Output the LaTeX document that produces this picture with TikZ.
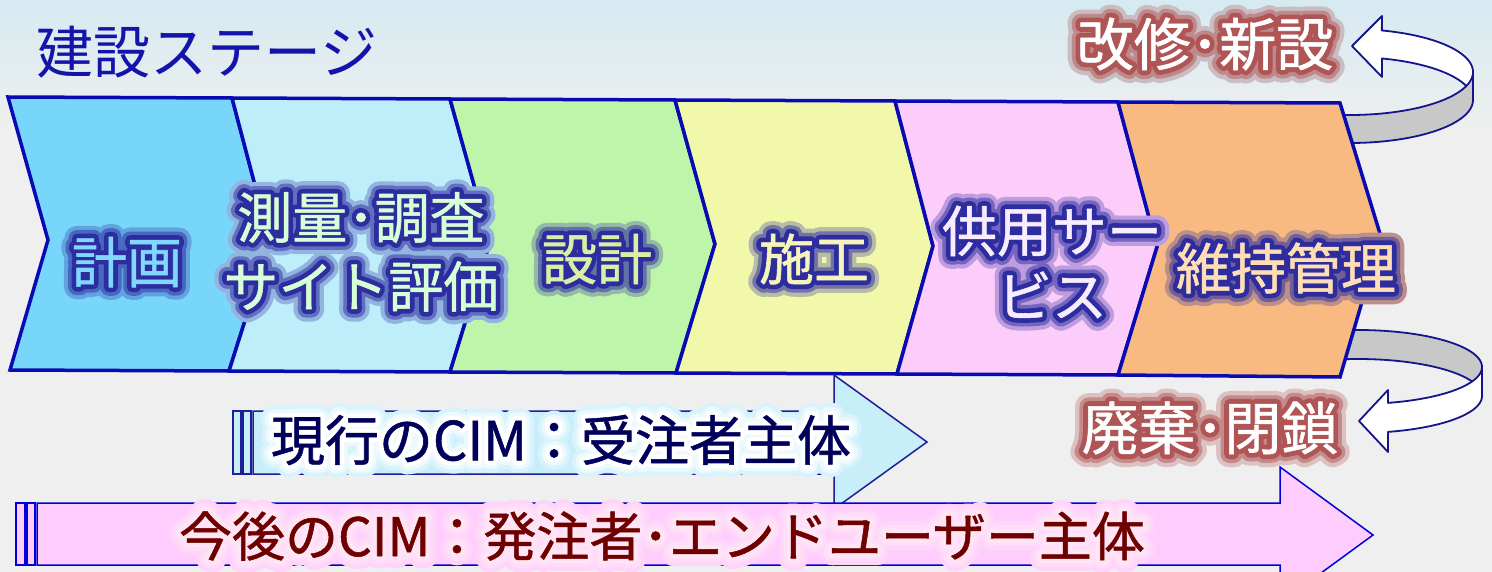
\documentclass[tikz,border=0pt]{standalone}
\usepackage{fontspec}
\setmainfont{Noto Sans CJK JP}
\newfontfamily\glowA[FakeBold=46]{Noto Sans CJK JP}
\newfontfamily\glowB[FakeBold=31]{Noto Sans CJK JP}
\newfontfamily\glowD[FakeBold=18]{Noto Sans CJK JP}
\newfontfamily\glowC[FakeBold=1]{Noto Sans CJK JP}
\definecolor{bgtop}{RGB}{214,234,241}
\definecolor{bgmid}{RGB}{239,239,239}
\definecolor{chevline}{RGB}{10,10,180}
\definecolor{fa}{RGB}{120,214,250}
\definecolor{fb}{RGB}{190,238,250}
\definecolor{fc}{RGB}{190,245,170}
\definecolor{fd}{RGB}{242,248,170}
\definecolor{fe}{RGB}{252,205,250}
\definecolor{ff}{RGB}{248,186,128}
\definecolor{ta}{RGB}{130,215,255}
\definecolor{tb}{RGB}{215,255,215}
\definecolor{tc}{RGB}{215,240,165}
\definecolor{td}{RGB}{245,245,185}
\definecolor{te}{RGB}{248,236,255}
\definecolor{tf}{RGB}{255,222,182}
\definecolor{gblue}{RGB}{45,45,160}
\definecolor{gred}{RGB}{175,85,85}
\definecolor{titleblue}{RGB}{20,20,170}
\definecolor{loopline}{RGB}{20,20,140}
\definecolor{loopgray}{RGB}{200,200,200}
\definecolor{curfill}{RGB}{200,238,250}
\definecolor{curline}{RGB}{30,30,150}
\definecolor{curtext}{RGB}{0,0,90}
\definecolor{futfill}{RGB}{255,205,253}
\definecolor{futline}{RGB}{0,0,220}
\definecolor{futtext}{RGB}{110,0,0}
\definecolor{futglow}{RGB}{255,228,245}
% #1 glow colour, #2 background, #3 text colour, #4 text
\newcommand\glowtext[4]{%
  \special{pdf:literal 1 j 1 J}%
  \rlap{\textcolor{#1!30!#2}{\glowA #4}}%
  \rlap{\textcolor{#1!65!#2}{\glowB #4}}%
  \rlap{\textcolor{#1}{\glowD #4}}%
  \textcolor{#3}{\glowC #4}}
\begin{document}
\begin{tikzpicture}[x=1pt,y=-1pt,
  chev/.style={draw=chevline, line width=3.5pt, line join=miter},
  lab/.style={inner sep=0pt, font=\fontsize{55}{69}\selectfont},
  loopw/.style={fill=white, draw=loopline, line width=1.8pt, line join=round},
  loopg/.style={fill=loopgray, draw=loopline, line width=1.8pt, line join=round},
  cur/.style={fill=curfill, draw=curline, line width=1.5pt},
  fut/.style={fill=futfill, draw=futline, line width=1.5pt}]
\useasboundingbox (0,0) rectangle (1492,572);
% background
\fill[top color=bgtop, bottom color=bgmid] (0,0) rectangle (1492,130);
\fill[bgmid] (0,129) rectangle (1492,572);
% title
\node[inner sep=0pt, font=\fontsize{57}{68}\selectfont, text=titleblue] (title) at (207,52) {建設ステージ};
% top loop (renovation)
\draw[loopw] (1382,16) -- (1352,46) -- (1382,77) -- (1382,58.5)
  -- plot[domain=75:0, samples=40] ({1350+123*cos(\x)},{100-43*sin(\x)})
  -- plot[domain=0:75, samples=40] ({1350+123*cos(\x)},{72-43*sin(\x)}) -- cycle;
\draw[loopg] plot[domain=100:0, samples=40] ({1350+123*cos(\x)},{72+43*sin(\x)})
  -- plot[domain=0:100, samples=40] ({1350+123*cos(\x)},{100+43*sin(\x)}) -- cycle;
% bottom loop (disposal)
\draw[loopg] plot[domain=105:0, samples=40] ({1358+124*cos(\x)},{367-37*sin(\x)})
  -- plot[domain=0:105, samples=40] ({1358+124*cos(\x)},{396-37*sin(\x)}) -- cycle;
\draw[loopw] (1388,390) -- (1359,421) -- (1388,452) -- (1388,432)
  -- plot[domain=76:0, samples=40] ({1358+124*cos(\x)},{396+37*sin(\x)})
  -- plot[domain=0:76, samples=40] ({1358+124*cos(\x)},{367+37*sin(\x)}) -- cycle;
% chevrons
\draw[chev, fill=fa] (8,97) -- (232,98) -- (270,242) -- (229,371) -- (10,370) -- (48,240) -- cycle;
\draw[chev, fill=fb] (232,98) -- (450,99) -- (490,242) -- (450,372) -- (229,371) -- (270,242) -- cycle;
\draw[chev, fill=fc] (450,99) -- (675,100) -- (715,244) -- (676,373) -- (450,372) -- (490,242) -- cycle;
\draw[chev, fill=fd] (675,100) -- (895,101) -- (933,246) -- (897,374) -- (676,373) -- (715,244) -- cycle;
\draw[chev, fill=fe] (895,101) -- (1118,102) -- (1157,247) -- (1118,375) -- (897,374) -- (933,246) -- cycle;
\draw[chev, fill=ff] (1118,102) -- (1340,103) -- (1381,237) -- (1340,377) -- (1118,375) -- (1157,247) -- cycle;
% chevron labels
\node[lab] (s1) at (127,262) {\glowtext{gblue}{fa}{ta}{計画}};
\node[lab] (s2) at (361,259) {\glowtext{gblue}{fb}{tb}{\begin{tabular}{@{}c@{}}測量･調査\\サイト評価\end{tabular}}};
\node[lab] (s3) at (597,259) {\glowtext{gblue}{fc}{tc}{設計}};
\node[lab] (s4) at (814,259) {\glowtext{gblue}{fd}{td}{施工}};
\node[lab, font=\fontsize{55}{65}\selectfont] (s5) at (1052,271) {\glowtext{gblue}{fe}{te}{\begin{tabular}{@{}c@{}}供用サー\\ビス\end{tabular}}};
\node[lab] (s6) at (1286,268) {\glowtext{gblue}{ff}{tf}{維持管理}};
% loop labels
\node[inner sep=0pt, font=\fontsize{57}{68}\selectfont] (renew) at (1205,44) {\glowtext{gred}{bgtop}{white}{改修･新設}};
\node[inner sep=0pt, font=\fontsize{57}{68}\selectfont] (close) at (1210,428) {\glowtext{gred}{bgmid}{white}{廃棄･閉鎖}};
% current CIM arrow
\draw[cur] (233,411) rectangle (241,474);
\draw[cur] (243,411) rectangle (251,474);
\draw[cur] (253,411) -- (834,411) -- (834,375) -- (927,442) -- (834,509) -- (834,474) -- (253,474) -- cycle;
\node[inner sep=0pt, font=\fontsize{54}{64}\selectfont] (cur) at (561,440) {\glowtext{white}{curfill}{curtext}{現行のCIM：受注者主体}};
% future CIM arrow
\draw[fut] (16,503) rectangle (25,565);
\draw[fut] (27,503) rectangle (35,565);
\draw[fut] (37,503) -- (1280,503) -- (1280,467) -- (1373,535) -- (1280,603) -- (1280,565) -- (37,565) -- cycle;
\node[inner sep=0pt, font=\fontsize{53}{62}\selectfont] (fut) at (662,536) {\glowtext{futglow}{futfill}{futtext}{今後のCIM：発注者･エンドユーザー主体}};
\end{tikzpicture}
\end{document}
